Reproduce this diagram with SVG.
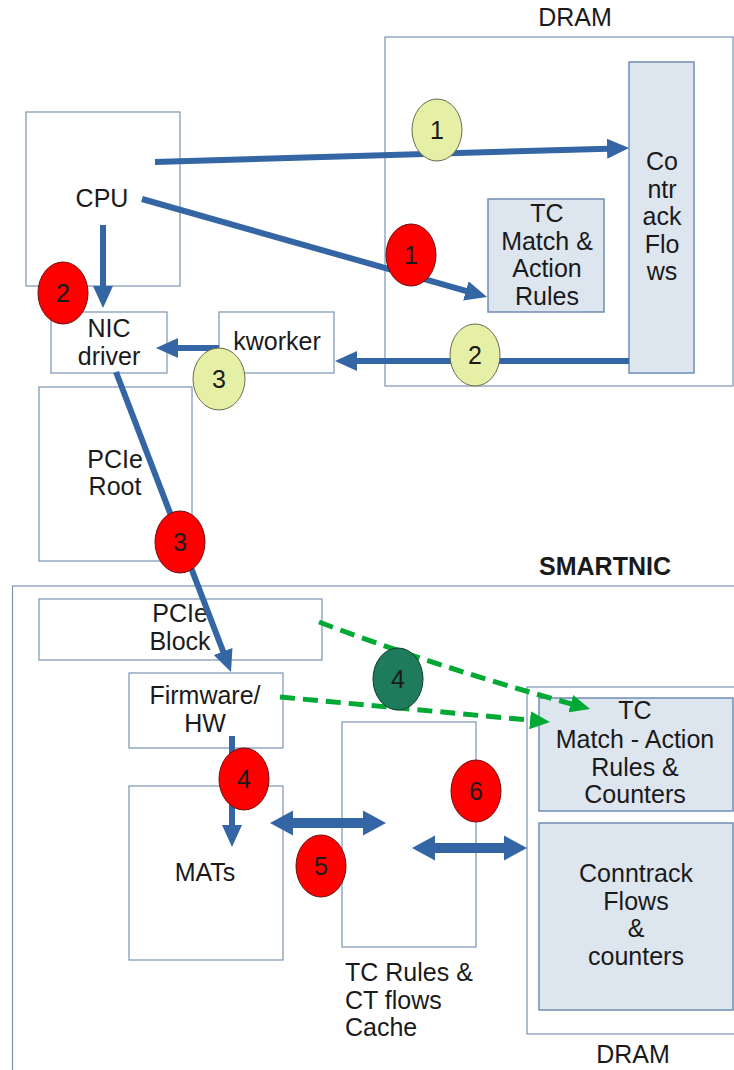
<svg xmlns="http://www.w3.org/2000/svg" width="734" height="1070" viewBox="0 0 734 1070">
<defs>
<style>
text{font-family:"Liberation Sans",Arial,sans-serif;font-size:25px;fill:#1a1a1a;text-anchor:middle}
.box{fill:#ffffff;stroke:#7a93b3;stroke-width:1.2}
.fbox{fill:#dde5ef;stroke:#6f8db5;stroke-width:1.5}
.blue{fill:none;stroke:#3465a4;stroke-width:6;marker-end:url(#bh)}
.green{fill:none;stroke:#00a933;stroke-width:5;stroke-dasharray:15 8;marker-end:url(#gh)}
.dbl{fill:#3465a4}
.yel{fill:#e6efa6;stroke:#6b6b50;stroke-width:1}
.red{fill:#ff0000;stroke:#6a1010;stroke-width:1}
.grn{fill:#1e7b5c;stroke:#0d3d2d;stroke-width:1}
.lbl{font-weight:bold;font-size:25px}
.left{text-anchor:start}
</style>
<marker id="bh" viewBox="0 0 22 20" refX="10" refY="10" markerWidth="22" markerHeight="20" markerUnits="userSpaceOnUse" orient="auto">
<path d="M0,0 L22,10 L0,20 z" fill="#3465a4"/>
</marker>
<marker id="gh" viewBox="0 0 20 18" refX="10" refY="9" markerWidth="20" markerHeight="18" markerUnits="userSpaceOnUse" orient="auto">
<path d="M0,0 L20,9 L0,18 z" fill="#00a933"/>
</marker>
</defs>
<rect width="734" height="1070" fill="#ffffff"/>

<g id="host-dram">
<rect class="box" x="385" y="37" width="348" height="349"/>
<text x="575" y="26">DRAM</text>
</g>
<g id="conntrack-flows">
<rect class="fbox" x="629" y="62" width="65" height="311"/>
<text x="662" y="170">Co</text>
<text x="662" y="198">ntr</text>
<text x="662" y="225">ack</text>
<text x="662" y="253">Flo</text>
<text x="662" y="280">ws</text>
</g>
<g id="tc-rules">
<rect class="fbox" x="488" y="199" width="116" height="113"/>
<text x="547" y="222">TC</text>
<text x="547" y="250">Match &amp;</text>
<text x="547" y="277">Action</text>
<text x="547" y="305">Rules</text>
</g>
<g id="cpu">
<rect class="box" x="26" y="112" width="154" height="174"/>
<text x="102" y="207">CPU</text>
</g>
<g id="nic-driver">
<rect class="box" x="51" y="312" width="116" height="61"/>
<text x="109" y="337">NIC</text>
<text x="109" y="365">driver</text>
</g>
<g id="kworker">
<rect class="box" x="219" y="312" width="115" height="61"/>
<text x="277" y="350">kworker</text>
</g>
<g id="pcie-root">
<rect class="box" x="39" y="387" width="153" height="174"/>
<text x="115" y="468">PCIe</text>
<text x="115" y="495">Root</text>
</g>

<g id="smartnic">
<rect class="box" x="12.5" y="586" width="800" height="600"/>
<text class="lbl" x="605" y="575">SMARTNIC</text>
</g>
<g id="pcie-block">
<rect class="box" x="39" y="599" width="283" height="61"/>
<text x="180" y="622">PCIe</text>
<text x="180" y="650">Block</text>
</g>
<g id="firmware-hw">
<rect class="box" x="129" y="673" width="154" height="75"/>
<text x="205" y="704">Firmware/</text>
<text x="205" y="732">HW</text>
</g>
<g id="mats">
<rect class="box" x="129" y="786" width="154" height="174"/>
<text x="205" y="881">MATs</text>
</g>
<g id="cache">
<rect class="box" x="342" y="722" width="134" height="225"/>
<text class="left" x="345" y="981">TC Rules &amp;</text>
<text class="left" x="345" y="1009">CT flows</text>
<text class="left" x="345" y="1036">Cache</text>
</g>
<g id="nic-dram">
<rect class="box" x="527" y="687" width="300" height="347"/>
<text x="633" y="1063">DRAM</text>
</g>
<g id="tc-match-action">
<rect class="fbox" x="539" y="698" width="194" height="113"/>
<text x="635" y="719">TC</text>
<text x="635" y="748">Match - Action</text>
<text x="635" y="776">Rules &amp;</text>
<text x="635" y="803">Counters</text>
</g>
<g id="conntrack-counters">
<rect class="fbox" x="539" y="823" width="194" height="187"/>
<text x="636" y="882">Conntrack</text>
<text x="636" y="910">Flows</text>
<text x="636" y="937">&amp;</text>
<text x="636" y="965">counters</text>
</g>

<g id="connectors">
<path class="blue" d="M155,162 L617,148.4"/>
<path class="blue" d="M142,199 L475.5,293.7"/>
<path class="blue" d="M103,225 L103,296"/>
<path class="blue" d="M629,361 L347,361"/>
<path class="blue" d="M219,348 L168,348"/>
<path class="blue" d="M116,372 L226.7,660.8"/>
<path class="blue" d="M232,736 L232,835"/>
<path class="green" d="M319,622 Q440,668 580.4,706.4"/>
<path class="green" d="M280,697 L540,721.1"/>
<polygon class="dbl" points="270,823 293,810.5 293,818 363,818 363,810.5 386,823 363,835.5 363,828 293,828 293,835.5"/>
<polygon class="dbl" points="412,848 435,835.5 435,843 504,843 504,835.5 527,848 504,860.5 504,853 435,853 435,860.5"/>
</g>

<g id="badges">
<ellipse class="yel" cx="437" cy="130" rx="25" ry="31"/><text x="437" y="139">1</text>
<ellipse class="red" cx="411" cy="255" rx="25" ry="31"/><text x="411" y="264">1</text>
<ellipse class="yel" cx="475" cy="355" rx="25" ry="31"/><text x="475" y="364">2</text>
<ellipse class="red" cx="63" cy="293" rx="25" ry="31"/><text x="63" y="302">2</text>
<ellipse class="yel" cx="219" cy="379" rx="26" ry="31"/><text x="219" y="388">3</text>
<ellipse class="red" cx="180" cy="542" rx="25" ry="31"/><text x="180" y="551">3</text>
<ellipse class="grn" cx="398" cy="679" rx="25" ry="31"/><text x="398" y="688">4</text>
<ellipse class="red" cx="244" cy="779" rx="25" ry="31"/><text x="244" y="788">4</text>
<ellipse class="red" cx="321" cy="866" rx="25" ry="31"/><text x="321" y="875">5</text>
<ellipse class="red" cx="476" cy="791" rx="25" ry="31"/><text x="476" y="800">6</text>
</g>
</svg>
